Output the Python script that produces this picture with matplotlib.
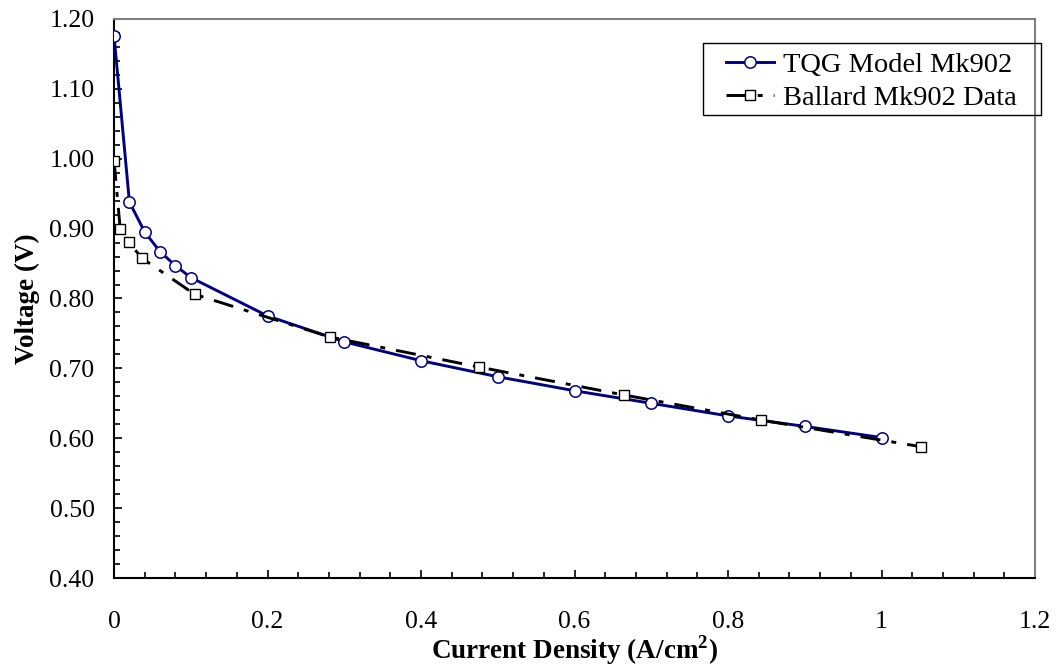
import numpy as np
import matplotlib
matplotlib.use("Agg")
import matplotlib.pyplot as plt
from matplotlib.patches import Rectangle
from matplotlib.ticker import MultipleLocator, FixedFormatter, FixedLocator

plt.rcParams['font.family'] = ['Liberation Serif', 'DejaVu Serif']
plt.rcParams['mathtext.fontset'] = 'custom'
plt.rcParams['mathtext.bf'] = 'Liberation Serif:bold'
plt.rcParams['mathtext.rm'] = 'Liberation Serif'

# TQG model curve (circles)
tqg_x = [0.0, 0.02, 0.04, 0.06, 0.08, 0.10, 0.2, 0.3, 0.4, 0.5, 0.6, 0.7, 0.8, 0.9, 1.0]
tqg_v = [1.176, 0.938, 0.895, 0.867, 0.847, 0.830, 0.775, 0.738, 0.711, 0.688,
         0.668, 0.650, 0.632, 0.617, 0.601]

# Ballard Mk902 measured data (squares)
ballard_x = [0.0, 0.008, 0.019, 0.036, 0.105, 0.281, 0.475, 0.664, 0.843, 1.051]
ballard_v = [0.997, 0.900, 0.881, 0.858, 0.806, 0.745, 0.702, 0.662, 0.626, 0.588]

x_ticks = [0, 0.2, 0.4, 0.6, 0.8, 1.0, 1.2]
x_labels = ['0', '0.2', '0.4', '0.6', '0.8', '1', '1.2']
y_ticks = [0.40, 0.50, 0.60, 0.70, 0.80, 0.90, 1.00, 1.10, 1.20]

fig = plt.figure(figsize=(10.58, 6.68), dpi=100)
ax = fig.add_axes([0.1078, 0.1347, 0.8705, 0.8369])

ax.plot(tqg_x, tqg_v, color='#000080', lw=2.1, marker='o', ms=8.2,
        mfc='white', mec='#000080', mew=1.1, label='TQG Model Mk902', zorder=3)
ax.plot(ballard_x, ballard_v, color='black', lw=2.1, ls=(0, (6.9, 3.8, 1.7, 3.8)),
        marker='s', ms=6.8, mfc='white', mec='black', mew=1.0,
        label='Ballard Mk902 Data', zorder=4)

ax.set_xlim(0, 1.2)
ax.set_ylim(0.40, 1.20)
ax.xaxis.set_major_locator(FixedLocator(x_ticks))
ax.xaxis.set_major_formatter(FixedFormatter(x_labels))
ax.xaxis.set_minor_locator(MultipleLocator(0.04))
ax.yaxis.set_major_locator(FixedLocator(y_ticks))
ax.yaxis.set_major_formatter(FixedFormatter(['%.2f' % v for v in y_ticks]))
ax.yaxis.set_minor_locator(MultipleLocator(0.02))

ax.tick_params(which='both', direction='in', top=False, right=False,
               color='black', width=1.2)
ax.tick_params(which='major', length=6)
ax.tick_params(which='minor', length=4.3)
ax.tick_params(axis='x', which='major', labelsize=18.5, pad=24)
ax.tick_params(axis='y', which='major', labelsize=18.5, pad=14)

for side in ['left', 'bottom']:
    ax.spines[side].set_color('black')
    ax.spines[side].set_linewidth(1.5)
for side in ['top', 'right']:
    ax.spines[side].set_color('#808080')
    ax.spines[side].set_linewidth(1.5)

ax.set_xlabel(r'Current Density (A/cm$^{\mathbf{2}}$)', fontsize=19.5,
              fontweight='bold', labelpad=0)
ax.set_ylabel('Voltage (V)', fontsize=19.5, fontweight='bold', labelpad=7)

# legend entries without their own frame; frame drawn as a box like the original
leg = ax.legend(loc='upper left', bbox_to_anchor=(0.6645, 0.940), borderaxespad=0,
                fontsize=20.5, frameon=False, handlelength=1.69,
                handletextpad=0.32, labelspacing=0.24, borderpad=0, numpoints=1)
ax.add_patch(Rectangle((0.6395, 0.8283), 0.3605 + 0.006, 0.1287,
                       transform=ax.transAxes, fill=False, edgecolor='black',
                       lw=1.0, clip_on=False, zorder=5))

fig.savefig('out.png', dpi=100)
